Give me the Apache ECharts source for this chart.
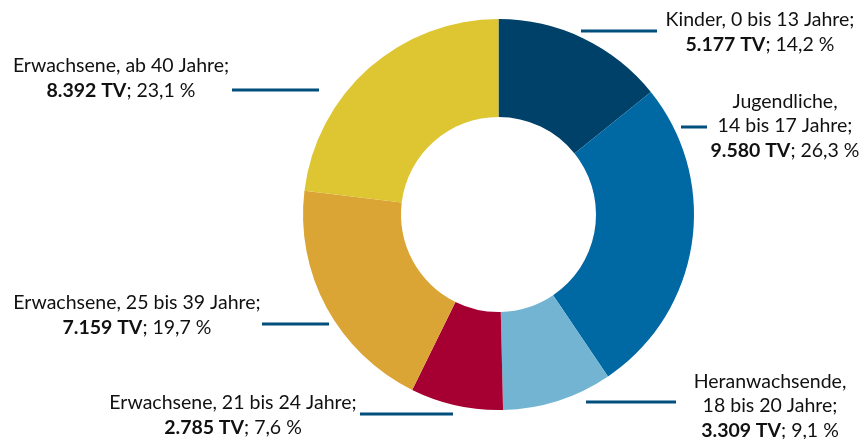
<!DOCTYPE html>
<html><head><meta charset="utf-8">
<script src="https://cdn.jsdelivr.net/npm/echarts@6/dist/echarts.min.js"></script>
<style>html,body{margin:0;padding:0;background:#fff}#c{width:861px;height:439px}</style>
</head><body><div id="c"></div>
<script>
const categories = ['Kinder, 0 bis 13 Jahre;', 'Jugendliche,\n14 bis 17 Jahre;', 'Heranwachsende,\n18 bis 20 Jahre;', 'Erwachsene, 21 bis 24 Jahre;', 'Erwachsene, 25 bis 39 Jahre;', 'Erwachsene, ab 40 Jahre;'];
const values = [5177, 9580, 3309, 2785, 7159, 8392];
const percents = ['14,2', '26,3', '9,1', '7,6', '19,7', '23,1'];
const colors = ['#00416a', '#0069a3', '#73b4d2', '#a60033', '#dba536', '#dec532'];

// layout (label centres and leader lines)
const labelPos = [[760, 32], [785, 126], [770, 406], [233, 415], [137, 315], [121, 78]];
const leader = [[581, 657, 31], [681, 707, 127], [586, 676, 402], [360, 453, 414], [262, 329, 324], [232, 319, 90]];

function fmt(v) { return String(v).replace(/\B(?=(\d{3})+(?!\d))/g, '.'); }

const chart = echarts.init(document.getElementById('c'), null, {renderer: 'canvas'});
const data = values.map((v, i) => ({
  name: categories[i], value: v,
  itemStyle: {color: colors[i]},
  label: {
    formatter: categories[i].split('\n').map(s => '{n|' + s + '}').join('\n') + '\n{b|' + fmt(v) + ' TV}{n|; ' + percents[i] + ' %}'
  }
}));
const txt = {fontSize: 19.5, fontFamily: 'Lato', color: '#111', lineHeight: 24.5, align: 'center'};
chart.setOption({
  animation: false,
  series: [{
    type: 'pie',
    center: [498.5, 214.5],
    radius: [97.5, 195.5],
    startAngle: 90,
    clockwise: true,
    avoidLabelOverlap: false,
    itemStyle: {borderWidth: 0},
    label: {
      show: true, position: 'outside', align: 'center',
      rich: {n: txt, b: Object.assign({}, txt, {fontWeight: 'bold'})}
    },
    labelLine: {show: true, lineStyle: {color: '#004f7c', width: 3}},
    labelLayout: function (p) {
      const i = p.dataIndex;
      const l = leader[i];
      return {
        x: labelPos[i][0], y: labelPos[i][1], align: 'center', verticalAlign: 'middle',
        labelLinePoints: [[l[0], l[2]], [(l[0] + l[1]) / 2, l[2]], [l[1], l[2]]]
      };
    },
    data: data
  }]
});
</script></body></html>
